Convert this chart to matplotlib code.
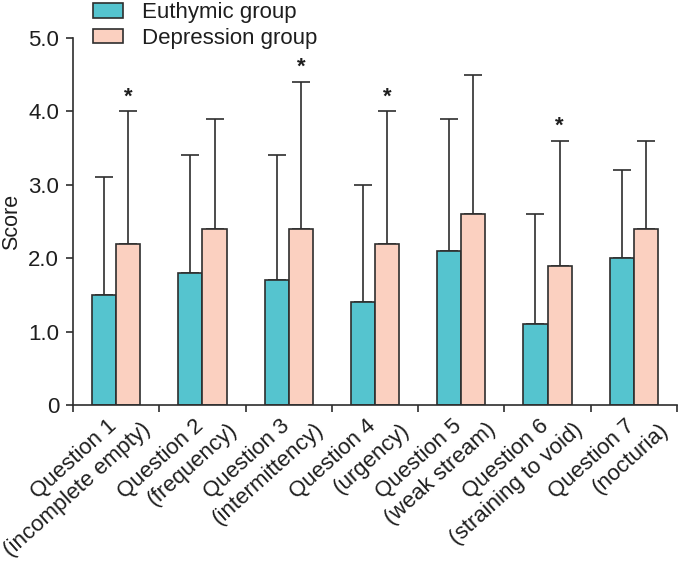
import numpy as np
import matplotlib
matplotlib.use('Agg')
import matplotlib.pyplot as plt
from matplotlib.patches import Patch
from matplotlib.transforms import ScaledTranslation

plt.rcParams['font.family'] = ['Liberation Sans', 'DejaVu Sans']

q_titles = ['Question 1', 'Question 2', 'Question 3', 'Question 4',
            'Question 5', 'Question 6', 'Question 7']
q_subtitles = ['(incomplete empty)', '(frequency)', '(intermittency)', '(urgency)',
               '(weak stream)', '(straining to void)', '(nocturia)']
euthymic_mean = [1.5, 1.8, 1.7, 1.4, 2.1, 1.1, 2.0]
euthymic_sd   = [1.6, 1.6, 1.7, 1.6, 1.8, 1.5, 1.2]
depress_mean  = [2.2, 2.4, 2.4, 2.2, 2.6, 1.9, 2.4]
depress_sd    = [1.8, 1.5, 2.0, 1.8, 1.9, 1.7, 1.2]
significant   = [True, False, True, True, False, True, False]

TEAL = '#55C4CF'
PINK = '#FBD0C0'
EDGE = '#2E2E2E'
TXT = '#1E1E1E'
FS = 16

fig = plt.figure(figsize=(6.78, 5.63), dpi=100)
ax = fig.add_axes([0.1077, 0.2806, 0.8908, 0.6519])

xs = np.arange(len(q_titles))
w = 0.28
zeros = np.zeros(len(xs))
ax.bar(xs - w/2, euthymic_mean, w, color=TEAL, edgecolor=EDGE, lw=1.2, zorder=2)
ax.bar(xs + w/2, depress_mean, w, color=PINK, edgecolor=EDGE, lw=1.2, zorder=2)
ax.errorbar(xs - w/2, euthymic_mean, yerr=[zeros, euthymic_sd], fmt='none',
            ecolor=EDGE, elinewidth=1.2, capsize=6.5, capthick=1.2, zorder=1)
ax.errorbar(xs + w/2, depress_mean, yerr=[zeros, depress_sd], fmt='none',
            ecolor=EDGE, elinewidth=1.2, capsize=6.5, capthick=1.2, zorder=1)

for x, m, s, sig in zip(xs, depress_mean, depress_sd, significant):
    if sig:
        ax.text(x + w/2, m + s + 0.2, '*', ha='center', va='center',
                fontsize=16, fontweight='bold', color=TXT)

ax.set_xlim(-0.5, len(xs) - 0.5)
ax.set_ylim(0, 5)
ax.set_yticks(np.arange(0, 5.1, 1))
ax.set_yticklabels(['0', '1.0', '2.0', '3.0', '4.0', '5.0'], fontsize=FS, color=TXT)
ax.set_ylabel('Score', fontsize=15.5, color=TXT)
ax.yaxis.set_label_coords((22 - 73) / 604, 0.5)

# category boundaries carry the ticks, labels drawn as two rotated lines
ax.set_xticks(np.arange(-0.5, len(xs), 1))
ax.set_xticklabels([])
trans = ax.get_xaxis_transform()
for x, t1, t2 in zip(xs, q_titles, q_subtitles):
    ax.text(x, 0, t1, rotation=42, rotation_mode='anchor', ha='right', va='top',
            fontsize=FS, color=TXT,
            transform=trans + ScaledTranslation(-0.09, -0.10, fig.dpi_scale_trans))
    ax.text(x, 0, t2, rotation=42, rotation_mode='anchor', ha='right', va='top',
            fontsize=FS, color=TXT,
            transform=trans + ScaledTranslation(0.25, -0.14, fig.dpi_scale_trans))

ax.tick_params(axis='x', length=5, width=1.2, color=EDGE)
ax.tick_params(axis='y', length=5, width=1.2, color=EDGE, pad=5)

for side in ['top', 'right']:
    ax.spines[side].set_visible(False)
for side in ['left', 'bottom']:
    ax.spines[side].set_linewidth(1.2)
    ax.spines[side].set_color(EDGE)

handles = [Patch(facecolor=TEAL, edgecolor=EDGE, lw=1.2),
           Patch(facecolor=PINK, edgecolor=EDGE, lw=1.2)]
leg = fig.legend(handles, ['Euthymic group', 'Depression group'], loc='upper left',
                 bbox_to_anchor=(0.137, 0.996), frameon=False, fontsize=FS,
                 handlelength=1.35, handleheight=0.63, labelspacing=0.2,
                 handletextpad=0.85, borderpad=0, borderaxespad=0)
for t in leg.get_texts():
    t.set_color(TXT)

fig.savefig('out.png', dpi=100)
